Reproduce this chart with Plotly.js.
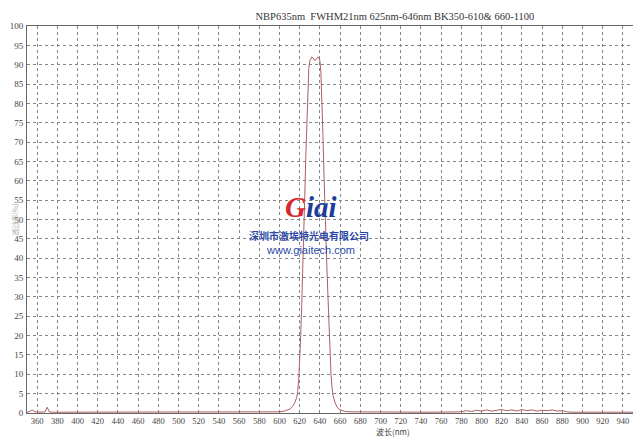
<!DOCTYPE html>
<html>
<head>
<meta charset="utf-8">
<script src="https://cdn.plot.ly/plotly-3.0.1.min.js"></script>
<style>html,body{margin:0;padding:0;background:#fff;}#chart{width:639px;height:438px;}</style>
</head>
<body>
<div id="chart"></div>
<script>
var chartTitle = "NBP635nm&nbsp;&nbsp;FWHM21nm 625nm-646nm BK350-610&amp; 660-1100";
var xTitle = "波长(nm)";
var yTitle = "透过率(%)";
var logoMain = "Giai";
var logoCompany = "深圳市激埃特光电有限公司";
var logoUrl = "www.giaitech.com";

var wavelength = [350,352,355,358,362,366,368,370,372,376,380,400,450,500,550,580,590,600,605,610,613,615,617,618,619,620,621,622,623,624,625,626,627,628,629,630,631,632,633,634,635,636,637,638,639,640,641,642,643,644,645,646,647,648,649,650,651,652,653,655,657,660,665,670,700,750,780,785,790,795,800,805,810,815,820,825,830,835,840,845,850,855,860,865,870,875,880,885,890,900,950];
var transmission = [0.2,0.3,0.8,0.3,0.2,0.2,0.3,1.5,0.3,0.2,0.2,0.2,0.2,0.2,0.2,0.2,0.2,0.3,0.5,1.0,1.7,2.6,4.0,5.5,8.5,13,20,28,36,46,56,66,76,84,89,91,91.8,92,91.8,91.3,91.1,91.3,91.8,92,91.8,91,88,82,72,62,52,44,37,30,22,15,10,6.5,4.5,2.7,1.5,0.8,0.4,0.3,0.2,0.2,0.3,0.6,0.4,0.7,0.5,0.8,0.5,0.7,0.9,0.6,0.8,0.5,0.9,0.6,0.8,0.5,0.7,0.6,0.8,0.5,0.6,0.3,0.2,0.2,0.2];

var yTicks = [0,5,10,15,20,25,30,35,40,45,50,55,60,65,70,75,80,85,90,95,100];
var xTicks = [360,380,400,420,440,460,480,500,520,540,560,580,600,620,640,660,680,700,720,740,760,780,800,820,840,860,880,900,920,940];

var serif = "Liberation Serif, Times New Roman, serif";

var trace = {
  x: wavelength, y: transmission, type: "scatter", mode: "lines",
  line: {color: "#ad5f62", width: 1}, hoverinfo: "skip"
};

var layout = {
  width: 639, height: 438,
  margin: {l: 27, r: 6, t: 26, b: 25},
  paper_bgcolor: "#ffffff", plot_bgcolor: "#ffffff",
  showlegend: false,
  title: {text: chartTitle, x: 0.618, xanchor: "center", y: 0.962, yanchor: "middle",
          font: {family: serif, size: 10.5, color: "#333"}},
  xaxis: {
    range: [350, 950], tickmode: "array", tickvals: xTicks, ticktext: xTicks.map(String),
    showline: true, linecolor: "#666", linewidth: 1, mirror: true,
    showgrid: true, gridcolor: "#858585", griddash: "dot", gridwidth: 1,
    zeroline: false, ticks: "", ticklabelstandoff: 0,
    tickfont: {family: serif, size: 8.5, color: "#444"}
  },
  yaxis: {
    range: [0, 100], tickmode: "array", tickvals: yTicks, ticktext: yTicks.map(String),
    showline: true, linecolor: "#666", linewidth: 1,
    showgrid: true, gridcolor: "#858585", griddash: "dot", gridwidth: 1,
    zeroline: false, ticks: "", ticklabelstandoff: 1,
    tickfont: {family: serif, size: 9, color: "#444"}
  },
  annotations: [
    {text: xTitle, xref: "paper", yref: "paper", x: 0.604, y: -0.049, yanchor: "middle",
     showarrow: false, font: {family: "Noto Sans CJK SC, serif", size: 8, color: "#444"}},
    {text: yTitle, xref: "paper", yref: "paper", x: -0.033, y: 0.5, textangle: -90,
     showarrow: false, font: {family: "Noto Sans CJK SC", size: 7, color: "#b0b0b0"}},
    {text: '<span style="color:#d42a2f">G</span><span style="color:#213c98">iai</span>',
     xref: "paper", yref: "paper", x: 0.468, y: 0.486, yanchor: "bottom", showarrow: false,
     font: {family: serif, size: 29, style: "italic", weight: "bold"}},
    {text: logoCompany, xref: "paper", yref: "paper", x: 0.466, y: 0.483, yanchor: "top", showarrow: false,
     font: {family: "Noto Sans CJK SC", size: 10, weight: "bold", color: "#2d4aa6"}},
    {text: logoUrl, xref: "paper", yref: "paper", x: 0.468, y: 0.443, yanchor: "top", showarrow: false,
     font: {family: "Liberation Sans, Arial, sans-serif", size: 11, color: "#2d4aa6"}}
  ]
};

Plotly.newPlot("chart", [trace], layout, {displayModeBar: false, staticPlot: true});
</script>
</body>
</html>
